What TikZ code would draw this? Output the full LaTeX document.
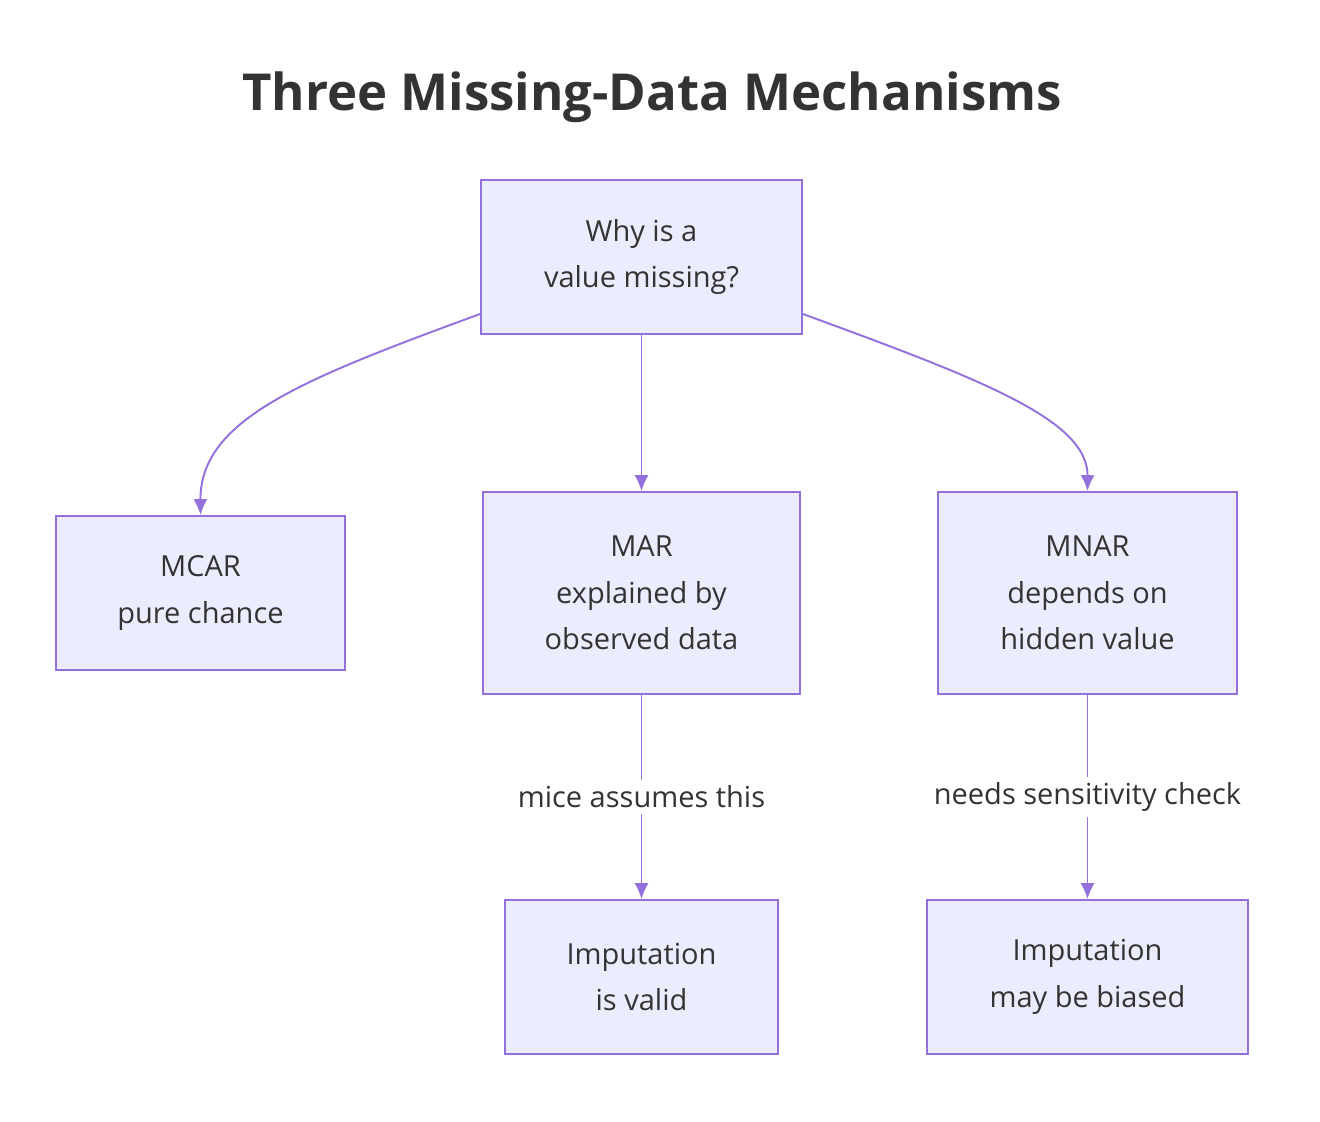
\documentclass[tikz,border=0pt]{standalone}
\usepackage{fontspec}
\setmainfont{Open Sans}
\usetikzlibrary{arrows.meta}
\definecolor{boxfill}{HTML}{ECECFF}
\definecolor{boxline}{HTML}{9370DB}
\definecolor{ink}{HTML}{333333}
\tikzset{
  mechbox/.style = {draw = boxline, fill = boxfill, line width = 1.1pt, text = ink,
    align = center, inner sep = 0pt, font = \fontsize{16.5}{26.5}\selectfont},
  flow/.style = {draw = boxline, line width = 1.1pt, -{Latex[length = 9pt, width = 8pt]}},
  edgetext/.style = {fill = white, text = ink, font = \fontsize{16.5}{20}\selectfont}
}
\begin{document}
\begin{tikzpicture}[x = 0.02cm, y = -0.02cm]
\useasboundingbox (0, 0) rectangle (1320, 1122);

% Title

\node [text = ink, font = \fontsize{29}{34}\selectfont\bfseries] (title) at (652, 97) {Three Missing-Data Mechanisms};

% Boxes

\node [mechbox, minimum width = 321*0.02cm, minimum height = 154*0.02cm] (why) at (641.5, 257) {Why is a\\value missing?};
\node [mechbox, minimum width = 289*0.02cm, minimum height = 154*0.02cm] (mcar) at (200.5, 593) {MCAR\\pure chance};
\node [mechbox, minimum width = 317*0.02cm, minimum height = 202*0.02cm] (mar) at (641.5, 593) {MAR\\explained by\\observed data};
\node [mechbox, minimum width = 299*0.02cm, minimum height = 202*0.02cm] (mnar) at (1087.5, 593) {MNAR\\depends on\\hidden value};
\node [mechbox, minimum width = 273*0.02cm, minimum height = 154*0.02cm] (valid) at (641.5, 977) {Imputation\\is valid};
\node [mechbox, minimum width = 321*0.02cm, minimum height = 154*0.02cm] (biased) at (1087.5, 977) {Imputation\\may be biased};

% Connectors

\draw [flow] (why.south west |- 0, 314) .. controls (300, 380) and (200, 420) .. (mcar.north);
\draw [flow] (why) -- (mar);
\draw [flow] (why.south east |- 0, 314) .. controls (983, 380) and (1088, 420) .. (mnar.north);
\draw [flow] (mar) -- node [edgetext] {mice assumes this} (valid);
\draw [flow] (mnar) -- node [edgetext] {needs sensitivity check} (biased);
\end{tikzpicture}
\end{document}
